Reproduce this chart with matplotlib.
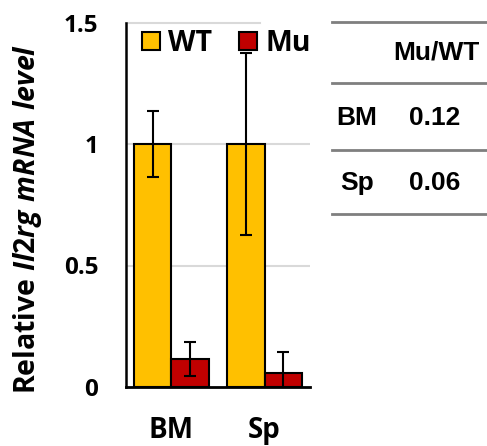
import matplotlib
matplotlib.use("Agg")
import matplotlib.pyplot as plt
from matplotlib.patches import Patch
from matplotlib.lines import Line2D
import numpy as np

categories = ["BM", "Sp"]
series = ["WT", "Mu"]
wt_values = [1.0, 1.0]
wt_err = [0.135, 0.375]
mu_values = [0.115, 0.056]
mu_err = [0.07, 0.088]
yticks = [0, 0.5, 1, 1.5]
ytick_labels = ["0", "0.5", "1", "1.5"]
table_header = "Mu/WT"
table_rows = ["BM", "Sp"]
table_values = ["0.12", "0.06"]

FONT = "Open Sans"
plt.rcParams['mathtext.fontset'] = 'custom'
plt.rcParams['mathtext.it'] = FONT + ':italic:bold'
plt.rcParams['mathtext.rm'] = FONT + ':bold'

W, H = 487, 446
fig = plt.figure(figsize=(W/100, H/100), dpi=100)
ax = fig.add_axes([126/W, 1-387/H, (310-126)/W, (387-22.5)/H])

yellow = "#FFC000"
red = "#C00000"
x = np.arange(len(categories))
bw = 0.403
ekw = dict(ecolor="black", elinewidth=1.5, capsize=4.5, capthick=1.5)
ax.bar(x - bw/2, wt_values, bw, yerr=wt_err, color=yellow, edgecolor="black",
       linewidth=1.5, error_kw=ekw, zorder=3)
ax.bar(x + bw/2, mu_values, bw, yerr=mu_err, color=red, edgecolor="black",
       linewidth=1.5, error_kw=ekw, zorder=3)

ax.set_xlim(-0.489, 1.489)
ax.set_ylim(0, 1.5)
for yv in [0.5, 1.0]:
    ax.axhline(yv, color="#d9d9d9", lw=1.5, zorder=1)
ax.axhline(1.5, xmin=0, xmax=(260-126)/184, color="#d9d9d9", lw=1.5, zorder=1, clip_on=False)

for s in ["top", "right"]:
    ax.spines[s].set_visible(False)
ax.spines["left"].set_linewidth(1.8)
ax.spines["bottom"].set_linewidth(2)

ax.set_yticks(yticks)
ax.set_yticklabels(ytick_labels, fontsize=17.5, fontweight="bold", family=FONT)
ax.set_xticks(x)
ax.set_xticklabels(categories, fontsize=20, fontweight="bold", family=FONT)
ax.tick_params(axis="y", length=0, pad=20)
ax.tick_params(axis="x", length=0, pad=21)

ax.set_ylabel(r"Relative $\mathit{Il2rg\ mRNA\ level}$", fontsize=20.5,
              fontweight="bold", family=FONT)
ax.yaxis.set_label_coords(-82/184, 0.461)

handles = [Patch(facecolor=yellow, edgecolor="black", linewidth=1.5),
           Patch(facecolor=red, edgecolor="black", linewidth=1.5)]
leg = ax.legend(handles, series, ncol=2, frameon=False, loc="upper left",
                bbox_to_anchor=(142/W, 1-29/H), bbox_transform=fig.transFigure,
                prop=dict(family=FONT, weight="bold", size=20.5),
                handlelength=0.62, handleheight=0.62, handletextpad=0.3,
                columnspacing=0.95, borderpad=0, borderaxespad=0)
leg.set_zorder(5)

# table on the right
for yl in [22, 83, 150, 214]:
    fig.add_artist(Line2D([332/W, 1.0], [1-yl/H, 1-yl/H], color="#7f7f7f", lw=2))
tfont = dict(family="Liberation Sans", weight="bold", size=19)
fig.text(436/W, 1-53/H, table_header, ha="center", va="center", **tfont)
for i, (r, v) in enumerate(zip(table_rows, table_values)):
    yc = [118, 183][i]
    fig.text(357/W, 1-yc/H, r, ha="center", va="center", **tfont)
    fig.text(435/W, 1-yc/H, v, ha="center", va="center", **tfont)

fig.savefig("out.png", dpi=100)
